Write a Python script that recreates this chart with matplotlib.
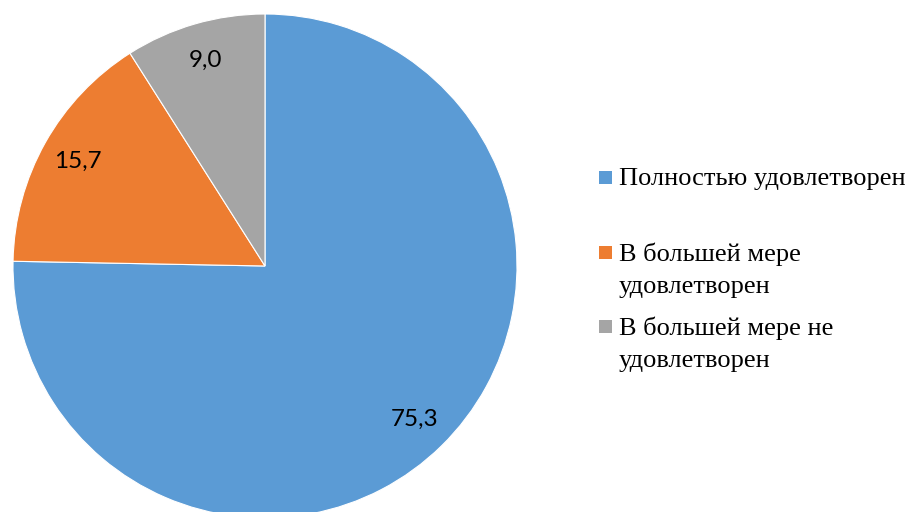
import matplotlib
matplotlib.use("Agg")
import matplotlib.pyplot as plt
from matplotlib.patches import Rectangle

# Data
categories = ["Полностью удовлетворен",
              "В большей мере\nудовлетворен",
              "В большей мере не\nудовлетворен"]
values = [75.3, 15.7, 9.0]
colors = ["#5B9BD5", "#ED7D31", "#A5A5A5"]

W, H = 912, 512
fig = plt.figure(figsize=(W / 100, H / 100), dpi=100)
# pie centre ~ (265, 266) px, radius ~252 px
ax = fig.add_axes([13 / W, -6 / H, 504 / W, 504 / H])

wedges, texts, autotexts = ax.pie(
    values, colors=colors, startangle=90, counterclock=False,
    autopct=lambda p: f"{p:.1f}".replace(".", ","), pctdistance=0.85,
    wedgeprops=dict(edgecolor="white", linewidth=0.8),
    textprops=dict(fontsize=17.5, family=["Lato", "DejaVu Sans"], color="black"))
for w in wedges:
    w.set_clip_on(False)
ax.set_xlim(-1, 1)
ax.set_ylim(-1, 1)
ax.set_aspect("equal")
ax.axis("off")

# legend drawn by hand (Excel-style spacing)
entry_y = [177, 252, 326]   # px from top, centre of first line
line_gap = 32
for wedge, label, y in zip(wedges, categories, entry_y):
    fig.patches.append(Rectangle((599 / W, 1 - (y + 7) / H), 13 / W, 13 / H,
                                 transform=fig.transFigure,
                                 facecolor=wedge.get_facecolor(),
                                 edgecolor="none"))
    for i, line in enumerate(label.split("\n")):
        fig.text(619 / W, 1 - (y + i * line_gap) / H, line,
                 ha="left", va="center_baseline",
                 family=["Liberation Serif"], fontsize=19, color="black")

fig.savefig("out.png", dpi=100)
